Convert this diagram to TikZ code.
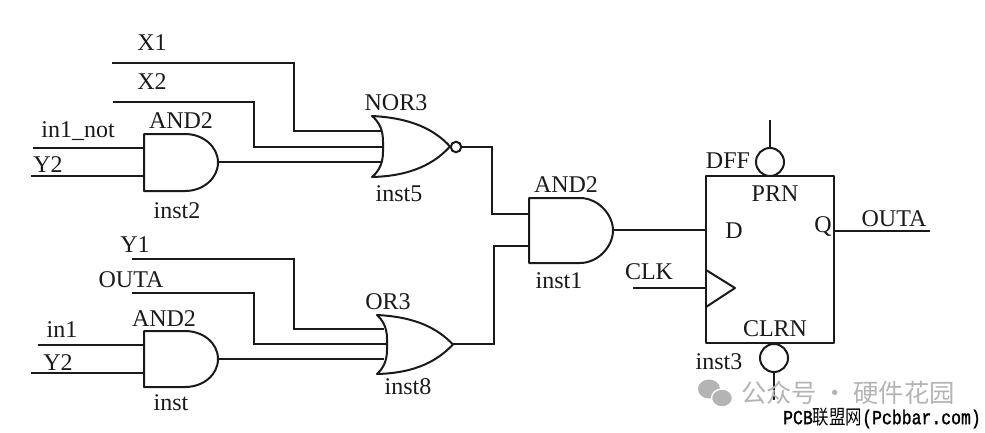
\documentclass[tikz,border=0pt]{standalone}
\usepackage{fontspec}
\usepackage{graphicx}
\setmainfont{Liberation Serif}
\newfontfamily\cjkf{Noto Sans CJK SC}
\newfontfamily\monof{Liberation Mono}[FakeBold=1.5]
\definecolor{ink}{HTML}{1A1A1A}
\definecolor{wm}{HTML}{B4B4B4}
\tikzset{
  wire/.style={draw=ink,line width=1.5pt,line join=miter},
  gate/.style={draw=ink,line width=1.5pt,fill=white,line join=round},
  lab/.style={inner sep=0pt,text=ink,font=\fontsize{18}{18}\selectfont},
  bubble/.style={draw=ink,line width=1.5pt,fill=white,circle,inner sep=0pt,minimum size=#1},
}
% name, left, top, bottom, right
\newcommand{\andgate}[5]{%
  \path[gate] (#2,#3) -- ({#5-33},#3)
    .. controls ({#5-15},#3) and (#5,{(#3+#4)/2-16}) .. (#5,{(#3+#4)/2})
    .. controls (#5,{(#3+#4)/2+16}) and ({#5-15},#4) .. ({#5-33},#4)
    -- (#2,#4) -- cycle;
}
% tipx, tiptop, tipbottom, apexx, rightx
\newcommand{\orgate}[5]{%
  \path[gate] (#1,#2)
    .. controls ({#1+40},{#2+2}) and ({#5-15},{#2+14}) .. (#5,{(#2+#3)/2})
    .. controls ({#5-15},{#3-14}) and ({#1+40},{#3-1}) .. (#1,#3)
    .. controls ({#4+1},{#3-10}) and (#4,{(#2+#3)/2+8}) .. (#4,{(#2+#3)/2})
    .. controls (#4,{(#2+#3)/2-8}) and ({#4+1},{#2+10}) .. (#1,#2) -- cycle;
}
\begin{document}
\begin{tikzpicture}[x=0.75pt,y=-0.75pt]
\useasboundingbox (0,0) rectangle (985,432);
% ---------- pins
\coordinate (x1s) at (112,63);   \coordinate (x1b) at (294,63);
\coordinate (x2s) at (113,102);  \coordinate (x2b) at (254,102);
\coordinate (n5a) at (381,131);  \coordinate (n5b) at (384,147); \coordinate (n5c) at (381,162);
\coordinate (i2a) at (33,148);   \coordinate (i2b) at (31,176);
\coordinate (g2a) at (144,148);  \coordinate (g2b) at (144,176); \coordinate (g2o) at (218,162);
\coordinate (y1s) at (132,259);  \coordinate (y1b) at (294,259);
\coordinate (ous) at (132,293);  \coordinate (oub) at (254,293);
\coordinate (n8a) at (384,329);  \coordinate (n8b) at (388,344); \coordinate (n8c) at (384,359);
\coordinate (i0a) at (38,345);   \coordinate (i0b) at (31,373);
\coordinate (g0a) at (144,345);  \coordinate (g0b) at (144,373); \coordinate (g0o) at (218,359);
\coordinate (n5o) at (461,147);  \coordinate (n5v) at (492,147);
\coordinate (n8o) at (453,344);  \coordinate (n8v) at (494,344);
\coordinate (g1a) at (529,214);  \coordinate (g1b) at (529,246); \coordinate (g1o) at (613,230);
\coordinate (ffd) at (706,230);  \coordinate (ffc) at (706,288); \coordinate (clk) at (633,288);
\coordinate (ffq) at (834,231);  \coordinate (qo) at (930,231);
\coordinate (prt) at (770,120);  \coordinate (clb) at (774,400);
% ---------- wires
\draw[wire] (x1s) -- (x1b) |- (n5a);
\draw[wire] (x2s) -- (x2b) |- (n5b);
\draw[wire] (i2a) -- (g2a);
\draw[wire] (i2b) -- (g2b);
\draw[wire] (g2o) -- (n5c);
\draw[wire] (y1s) -- (y1b) |- (n8a);
\draw[wire] (ous) -- (oub) |- (n8b);
\draw[wire] (i0a) -- (g0a);
\draw[wire] (i0b) -- (g0b);
\draw[wire] (g0o) -- (n8c);
\draw[wire] (n5o) -- (n5v) |- (g1a);
\draw[wire] (n8o) -- (n8v) |- (g1b);
\draw[wire] (g1o) -- (ffd);
\draw[wire] (clk) -- (ffc);
\draw[wire] (ffq) -- (qo);
% ---------- gates
\andgate{g2}{144}{134}{191}{218}
\andgate{g0}{144}{331}{387}{218}
\andgate{g1}{529}{198}{263}{613}
\orgate{372}{116}{177}{383}{450}
\orgate{377}{315}{374}{387}{453}
\node[bubble=10.5pt*0.75] (nb) at (456,147) {};
% ---------- flip-flop
\path[gate] (706,176) rectangle (834,343);
\path[gate,fill=none] (706,270) -- (735,288) -- (706,307);
\node[bubble=28pt*0.75] (prb) at (770,162) {};
\node[bubble=28pt*0.75] (clr) at (774,358) {};
\draw[wire] (prt) -- (prb);
\draw[wire] (clb) -- (clr);
% ---------- labels
\node[lab] (tx1) at (152,43) {X1};
\node[lab] (tx2) at (152,82) {X2};
\node[lab] (tnor) at (396,103) {NOR3};
\node[lab] (ta2) at (181,121) {AND2};
\node[lab] (tin1n) at (78,131) {in1\_not};
\node[lab] (ty2a) at (48,165) {Y2};
\node[lab] (ti5) at (399,194) {inst5};
\node[lab] (ti2) at (177,211) {inst2};
\node[lab] (ty1) at (135,245) {Y1};
\node[lab] (tou) at (131,280) {OUTA};
\node[lab] (tor) at (388,302) {OR3};
\node[lab] (ta0) at (164,319) {AND2};
\node[lab] (tin1) at (62,330) {in1};
\node[lab] (ty2b) at (58,363) {Y2};
\node[lab] (ti0) at (171,403) {inst};
\node[lab] (ti8) at (408,387) {inst8};
\node[lab] (ta1) at (566,185) {AND2};
\node[lab] (ti1) at (559,281) {inst1};
\node[lab] (tclk) at (649,272) {CLK};
\node[lab] (tdff) at (728,161) {DFF};
\node[lab] (tprn) at (775,194) {PRN};
\node[lab] (td) at (734,231) {D};
\node[lab] (tq) at (823,226) {Q};
\node[lab] (tout) at (894,219) {OUTA};
\node[lab] (tclr) at (775,329) {CLRN};
\node[lab] (ti3) at (719,362) {inst3};
% ---------- watermark
\path[fill=wm] (709,389) ellipse [x radius=11,y radius=9.5];
\path[draw=white,line width=1pt,fill=wm] (722,398) ellipse [x radius=10.5,y radius=9];
\node[inner sep=0pt,text=wm,font=\cjkf\fontsize{19}{20}\selectfont] (wm1) at (848,393) {公众号 · 硬件花园};
\node[inner sep=0pt,text=black,font=\fontsize{13}{14}\selectfont] (wm2) at (882,418) {\scalebox{0.95}[1.15]{\monof PCB\cjkf 联盟网\monof (Pcbbar.com)}};
\end{tikzpicture}
\end{document}
